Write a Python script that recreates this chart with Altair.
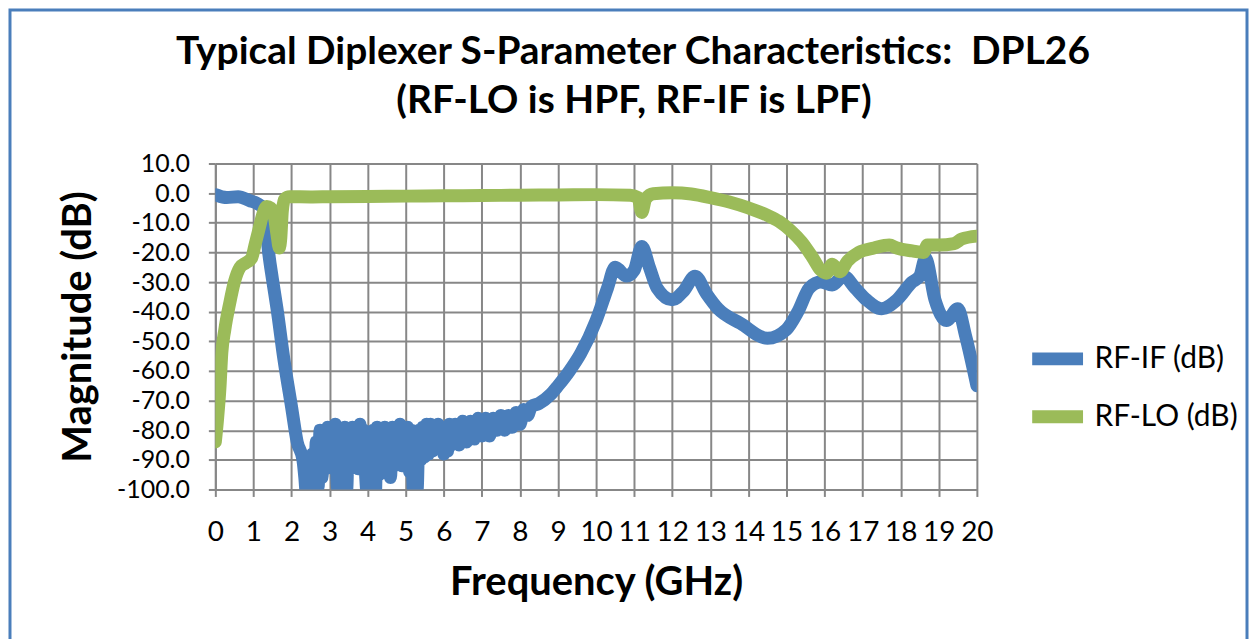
import altair as alt
import pandas as pd

# RF-IF (dB) series (blue)
if_freq = [0.0, 0.3, 0.6, 0.9, 1.1, 1.25, 1.32, 1.4, 1.5, 1.62, 1.8, 2.0, 2.15,
           2.30, 2.35, 2.40, 2.45, 2.50, 2.55, 2.60, 2.65, 2.70, 2.75, 2.80, 2.85, 2.90, 2.95,
           3.00, 3.05, 3.10, 3.15, 3.20, 3.25, 3.30, 3.35, 3.40, 3.45, 3.50, 3.55, 3.60,
           3.65, 3.70, 3.75, 3.80, 3.85, 3.90, 3.95, 4.00, 4.05, 4.10, 4.15, 4.20, 4.25,
           4.30, 4.35, 4.40, 4.45, 4.50, 4.55, 4.60, 4.65, 4.70, 4.75, 4.80, 4.85, 4.90,
           4.95, 5.00, 5.05, 5.10, 5.15, 5.20, 5.25, 5.30, 5.35, 5.40, 5.45, 5.50, 5.55,
           5.60, 5.65, 5.70, 5.75, 5.80, 5.85, 5.90, 5.95, 6.00, 6.05, 6.10, 6.15, 6.20,
           6.30, 6.40, 6.50, 6.60, 6.70, 6.80, 6.90, 7.00, 7.10, 7.20, 7.30, 7.40, 7.50,
           7.60, 7.70, 7.80, 7.90, 8.00, 8.10, 8.20, 8.30, 8.50, 8.80,
           9.0, 9.3, 9.6, 10.0, 10.3, 10.5, 10.8, 11.0, 11.2, 11.4, 11.6, 12.0,
           12.3, 12.6, 12.9, 13.2, 13.8, 14.5, 15.0, 15.3, 15.6, 15.9, 16.2, 16.5, 16.8,
           17.1, 17.5, 17.9, 18.3, 18.5, 18.65, 18.9, 19.2, 19.5, 19.7, 20.0]
if_db = [-0.5, -1.5, -1.2, -2.5, -3.5, -5.0, -10.0, -20.0, -29.0, -39.0, -56.0, -72.0, -84.0,
         -90.0, -96.0, -103.0, -92.0, -103.0, -88.0, -103.0, -84.0, -99.0, -80.0, -96.0, -80.0, -93.0, -79.0,
         -92.0, -80.0, -93.0, -78.0, -98.0, -103.0, -85.0, -103.0, -79.0, -100.0, -80.0, -93.0, -79.0,
         -92.0, -80.0, -93.0, -78.0, -92.0, -80.0, -96.0, -103.0, -88.0, -103.0, -80.0, -103.0, -79.0,
         -95.0, -80.0, -92.0, -79.0, -93.0, -80.0, -96.0, -79.0, -92.0, -80.0, -91.0, -78.0, -92.0,
         -80.0, -90.0, -79.0, -94.0, -80.0, -100.0, -86.0, -100.0, -80.0, -90.0, -79.0, -89.0, -78.0,
         -88.0, -78.0, -87.0, -79.0, -86.0, -78.0, -86.0, -79.0, -88.0, -80.0, -87.0, -78.0, -85.0,
         -78.0, -85.0, -77.0, -84.0, -77.0, -83.0, -76.0, -82.0, -76.0, -82.0, -76.0, -80.0, -75.0,
         -80.0, -75.0, -79.0, -74.0, -78.0, -73.0, -75.0, -72.0, -71.0, -68.0,
         -65.0, -60.0, -54.0, -43.0, -32.0, -25.0, -28.0, -26.0, -18.0, -25.0, -32.0, -36.0,
         -33.0, -28.0, -34.0, -39.0, -44.0, -49.0, -46.0, -40.0, -32.0, -30.0, -31.0, -28.0, -32.0,
         -36.0, -39.0, -36.0, -30.0, -28.0, -22.0, -36.0, -43.0, -39.0, -48.0, -65.0]

# RF-LO (dB) series (green)
lo_freq = [0.0, 0.06, 0.12, 0.17, 0.25, 0.38, 0.5, 0.65, 0.8, 0.95, 1.05, 1.15, 1.25, 1.35,
           1.45, 1.55, 1.62, 1.68, 1.72, 1.76, 1.82, 1.95, 2.5, 3.0, 4.0, 5.0, 6.0, 7.0, 8.0,
           9.0, 10.0, 10.9, 11.1, 11.2, 11.3, 11.5, 12.0, 12.5, 13.0, 13.5, 14.0, 14.5, 14.8,
           15.1, 15.4, 15.7, 15.9, 16.05, 16.2, 16.4, 16.6, 16.9, 17.3, 17.7, 17.9, 18.3, 18.6,
           18.7, 19.0, 19.4, 19.6, 20.0]
lo_db = [-84.0, -76.0, -66.0, -54.0, -46.0, -37.0, -30.0, -25.0, -23.5, -22.0, -17.0, -12.0, -7.0, -4.5,
         -5.0, -8.0, -14.0, -18.5, -15.0, -6.0, -2.0, -1.2, -1.3, -1.2, -1.1, -1.0, -0.9, -0.8, -0.7,
         -0.6, -0.5, -0.7, -1.5, -6.5, -2.0, -0.2, 0.1, -0.3, -1.5, -3.0, -5.0, -7.5, -9.5,
         -12.5, -16.5, -22.0, -26.0, -27.0, -24.0, -26.5, -23.0, -20.0, -18.5, -17.5, -18.5, -19.5, -20.0,
         -17.5, -17.5, -17.0, -15.5, -14.5]

series_names = ["RF-IF (dB)", "RF-LO (dB)"]
series_colors = ["#4A7EBB", "#9BBB59"]
x_ticks = list(range(0, 21))
y_ticks = list(range(-100, 11, 10))
title_line1 = "Typical Diplexer S-Parameter Characteristics:\u00a0 DPL26"
title_line2 = "(RF-LO is HPF, RF-IF is LPF)"

FONT = "Lato"

df = pd.concat([
    pd.DataFrame({"f": if_freq, "v": if_db, "s": series_names[0], "o": range(len(if_freq))}),
    pd.DataFrame({"f": lo_freq, "v": lo_db, "s": series_names[1], "o": range(len(lo_freq))}),
])

lines = alt.Chart(df).mark_line(
    strokeWidth=13, strokeCap="round", strokeJoin="round", interpolate="monotone", clip=True
).encode(
    x=alt.X("f:Q", scale=alt.Scale(domain=[0, 20], nice=False),
            axis=alt.Axis(values=x_ticks, title="Frequency (GHz)", format="d",
                          labelFontSize=28,
                          labelOverlap=False, labelFlush=False, labelPadding=22, titlePadding=16)),
    y=alt.Y("v:Q", scale=alt.Scale(domain=[-100, 10], nice=False),
            axis=alt.Axis(values=y_ticks, title="Magnitude (dB)",
                          labelExpr="(datum.value < 0 ? '-' : '') + format(abs(datum.value), '.1f')",
                          labelFontSize=25,
                          labelOverlap=False, labelFlush=False, labelPadding=19, titlePadding=18)),
    color=alt.Color("s:N", scale=alt.Scale(domain=series_names, range=series_colors),
                    legend=alt.Legend(title=None, orient="none", legendX=813, legendY=164,
                                      symbolType="stroke", symbolStrokeWidth=13, symbolSize=2601,
                                      labelFontSize=30, labelFont=FONT, labelColor="#000",
                                      labelOffset=5, rowPadding=0)),
    order="o:Q",
)

base1 = alt.Chart(pd.DataFrame({"a": [0]}))

border = base1.mark_rect(fillOpacity=0, stroke="#4A7EBB", strokeWidth=3).encode(
    x=alt.value(-206), x2=alt.value(1035), y=alt.value(-154), y2=alt.value(480)
)

t1 = base1.mark_text(text=title_line1, font=FONT, fontSize=39, fontWeight="bold",
                     color="#000", align="center", baseline="alphabetic").encode(
    x=alt.value(419), y=alt.value(-100))
t2 = base1.mark_text(text=title_line2, font=FONT, fontSize=39, fontWeight="bold",
                     color="#000", align="center", baseline="alphabetic").encode(
    x=alt.value(420), y=alt.value(-51))

chart = alt.layer(border, t1, t2, lines).properties(
    width=764, height=327,
    background="white",
    autosize=alt.AutoSizeParams(type="none"),
    padding={"left": 208, "top": 155, "right": 273, "bottom": 149},
).configure_axis(
    grid=True, gridColor="#878787", gridWidth=2,
    domainColor="#878787", domainWidth=2,
    tickColor="#878787", tickWidth=2, tickSize=7,
    labelFont=FONT, labelColor="#000",
    titleFont=FONT, titleFontSize=40, titleFontWeight="bold", titleColor="#000",
).configure_view(stroke=None)

chart.save("out.html", embed_options={"renderer": "svg", "actions": False})
